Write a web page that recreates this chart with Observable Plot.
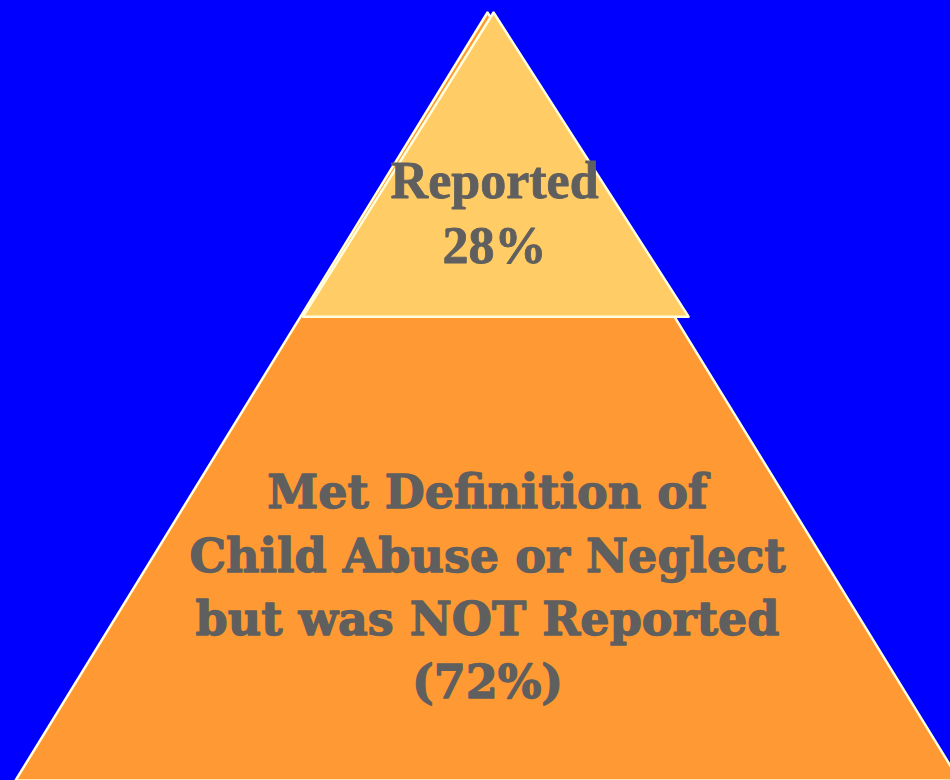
<!DOCTYPE html>
<html>
<head>
<meta charset="utf-8">
<script src="https://cdn.jsdelivr.net/npm/d3@7"></script>
<script src="https://cdn.jsdelivr.net/npm/@observablehq/plot@0.6"></script>
<style>
  html, body { margin: 0; padding: 0; background: #0000FF; overflow: hidden; }
  #chart svg { display: block; }
</style>
</head>
<body>
<div id="chart"></div>
<script>
// ---- data ----
const tierNames = ["Reported", "Met Definition of Child Abuse or Neglect but was NOT Reported"];
const tierShares = [28, 72];
const tierColors = ["#FFCC66", "#FF9933"];

// label lines per tier
const topLines = ["Reported", "28%"];
const bottomLines = ["Met Definition of", "Child Abuse or Neglect", "but was NOT Reported", "(72%)"];

// pyramid geometry in unit space (x: half-width units, y: 0 base .. 1 apex)
const outerX = [-1, 0, 1];
const outerY = [0, 1, 0];
const innerX = [-0.391, 0.0128, 0.426];
const innerY = [0.604, 1, 0.604];

// label baseline positions (unit space)
const topLabelX = 0.015;
const topLabelY = [0.758, 0.674];
const bottomLabelX = 0.0;
const bottomLabelY = [0.355, 0.272, 0.189, 0.107];

// ---- build tables ----
const outer = outerX.map((x, i) => ({x, y: outerY[i], tier: tierNames[1]}));
const inner = innerX.map((x, i) => ({x, y: innerY[i], tier: tierNames[0]}));
const topText = topLines.map((t, i) => ({x: topLabelX, y: topLabelY[i], t}));
const bottomText = bottomLines.map((t, i) => ({x: bottomLabelX, y: bottomLabelY[i], t}));

const W = 950, H = 780;
const plot = Plot.plot({
  width: W,
  height: H,
  margin: 0,
  marginTop: 12,
  x: {domain: [-487 / 472, 463 / 472], axis: null},
  y: {domain: [0, 1], axis: null},
  style: {background: "#0000FF", overflow: "visible"},
  marks: [
    Plot.line(outer, {x: "x", y: "y", fill: tierColors[1], stroke: "#FFFFDD", strokeWidth: 2.5, curve: "linear-closed"}),
    Plot.line(inner, {x: "x", y: "y", fill: tierColors[0], stroke: "#FFFFDD", strokeWidth: 2.5, curve: "linear-closed"}),
    Plot.text(topText, {x: "x", y: "y", text: "t", lineAnchor: "bottom", fill: "#5F5F5F",
      stroke: "#5F5F5F", strokeWidth: 0.8,
      fontFamily: "Liberation Serif", fontWeight: "bold", fontSize: 52}),
    Plot.text(bottomText, {x: "x", y: "y", text: "t", lineAnchor: "bottom", fill: "#5F5F5F",
      stroke: "#5F5F5F", strokeWidth: 1.3,
      fontFamily: "DejaVu Serif", fontWeight: "bold", fontSize: 46})
  ]
});
document.getElementById("chart").appendChild(plot);
</script>
</body>
</html>
